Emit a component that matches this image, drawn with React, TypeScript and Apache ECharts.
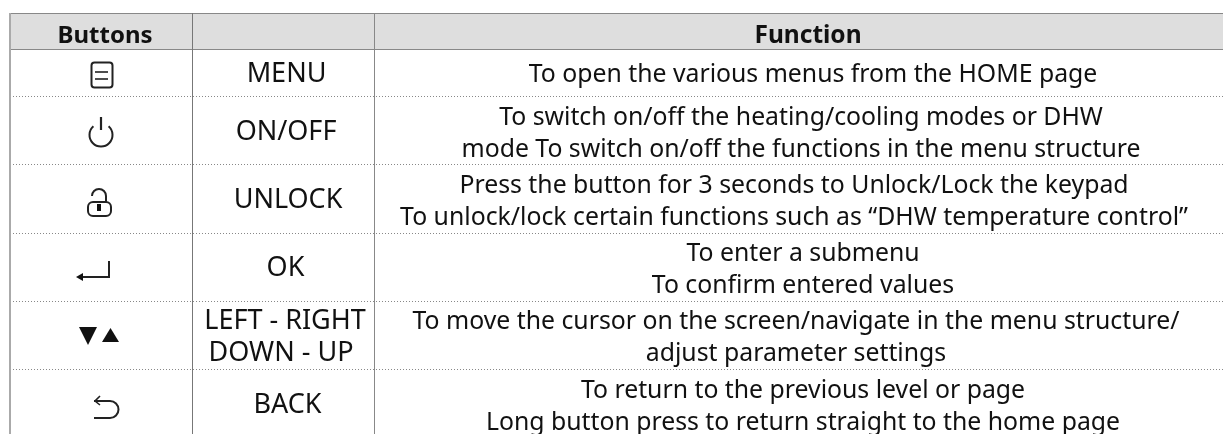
import React, { useEffect, useRef } from "react";
import * as echarts from "echarts";

const headers = ["Buttons", "", "Function"];
const names = [["MENU"], ["ON/OFF"], ["UNLOCK"], ["OK"], ["LEFT - RIGHT", "DOWN - UP"], ["BACK"]];
const nameBaselines = [[83], [141], [209], [277], [330, 362], [414]];
const nameCenters = [[286.5], [286], [288], [285.5], [285, 281], [287.5]];
const functions = [
  ["To open the various menus from the HOME page"],
  ["To switch on/off the heating/cooling modes or DHW", "mode To switch on/off the functions in the menu structure"],
  ["Press the button for 3 seconds to Unlock/Lock the keypad", "To unlock/lock certain functions such as “DHW temperature control”"],
  ["To enter a submenu", "To confirm entered values"],
  ["To move the cursor on the screen/navigate in the menu structure/", "adjust parameter settings"],
  ["To return to the previous level or page", "Long button press to return straight to the home page"],
];
const funcBaselines = [[83], [126, 158], [194, 226], [262, 294], [330, 362], [399, 431]];
const funcCenters = [813, 801, 794, 803, 796, 803];
const rowLines = [96.5, 164.5, 233.5, 301.5, 369.5];
const FONT = "Noto Sans";
const FS = 24.8;
const NAME_FS = 27;
const BASE_OFF = 11;

function txt(x: number, baseline: number, s: string, bold = false, size = FS) {
  return {
    type: "text", x, y: baseline - BASE_OFF * (size / 25),
    style: { text: s, font: `${bold ? "bold " : ""}${size}px "${FONT}"`, fill: "#111", align: "center", verticalAlign: "middle" },
  };
}
const ln = (x1: number, y1: number, x2: number, y2: number, stroke: string, w = 1, dash?: number[]) => ({
  type: "line", shape: { x1, y1, x2, y2 }, style: { stroke, lineWidth: w, lineDash: dash },
});

function icons() {
  const c = "#222";
  const s = { stroke: c, fill: "none", lineWidth: 2 };
  const out: any[] = [];
  out.push({ type: "rect", shape: { x: 91.5, y: 62.5, width: 21, height: 25, r: 3 }, style: s });
  out.push(ln(95, 72, 108, 72, c, 1.6), ln(95, 79, 108, 79, c, 1.6));
  out.push({ type: "arc", shape: { cx: 101, cy: 135, r: 11.5, startAngle: -Math.PI * 0.27, endAngle: Math.PI * 1.27, clockwise: true }, style: s });
  out.push(ln(101, 117, 101, 130, c, 2.2));
  out.push({ type: "rect", shape: { x: 88, y: 202, width: 23, height: 14, r: 5 }, style: s });
  out.push({ type: "arc", shape: { cx: 99, cy: 196, r: 7, startAngle: Math.PI, endAngle: 0, clockwise: true }, style: s });
  out.push(ln(106, 196, 106, 202, c, 2));
  out.push({ type: "rect", shape: { x: 97, y: 204, width: 4, height: 7 }, style: { fill: "#111" } });
  out.push({ type: "polyline", shape: { points: [[109, 261], [109, 277], [80, 277]] }, style: s });
  out.push({ type: "polygon", shape: { points: [[76, 277], [83, 273], [83, 281]] }, style: { fill: "#111" } });
  out.push({ type: "polygon", shape: { points: [[79, 327], [97, 327], [88, 345]] }, style: { fill: "#111" } });
  out.push({ type: "polygon", shape: { points: [[102, 342], [119, 342], [110.5, 328]] }, style: { fill: "#111" } });
  out.push(ln(94, 401, 110, 401, c, 2));
  out.push({ type: "arc", shape: { cx: 110, cy: 409.5, r: 8.5, startAngle: -Math.PI / 2, endAngle: Math.PI / 2, clockwise: true }, style: s });
  out.push(ln(94, 418, 110, 418, c, 2));
  out.push({ type: "polyline", shape: { points: [[100, 396], [95, 401], [100, 405]] }, style: { stroke: c, fill: "none", lineWidth: 1.6 } });
  return out;
}

function build() {
  const els: any[] = [];
  els.push({ type: "rect", shape: { x: 10, y: 14, width: 1213, height: 36 }, style: { fill: "#dedede" } });
  rowLines.forEach((y) => els.push(ln(10, y, 1223, y, "#888", 1, [1, 2])));
  els.push(ln(10, 13.5, 1223, 13.5, "#888", 1.2), ln(10, 49.5, 1223, 49.5, "#888", 1.2));
  els.push(ln(10, 13, 10, 434, "#aaa", 2), ln(192.5, 13, 192.5, 434, "#777"), ln(374.5, 13, 374.5, 434, "#888"));
  els.push(txt(105, 44, headers[0], true, 24), txt(808, 44, headers[2], true, 24.5));
  names.forEach((ls, i) => ls.forEach((l, j) => els.push(txt(nameCenters[i][j], nameBaselines[i][j], l, false, NAME_FS))));
  functions.forEach((ls, i) => ls.forEach((l, j) => els.push(txt(funcCenters[i], funcBaselines[i][j], l))));
  return els.concat(icons());
}

export default function App() {
  const ref = useRef<HTMLDivElement>(null);
  useEffect(() => {
    const chart = echarts.init(ref.current!, null, { renderer: "svg" });
    chart.setOption({ animation: false, graphic: { elements: build() } });
    return () => chart.dispose();
  }, []);
  return <div ref={ref} style={{ position: "fixed", left: 0, top: 0, width: 1223, height: 434 }} />;
}
